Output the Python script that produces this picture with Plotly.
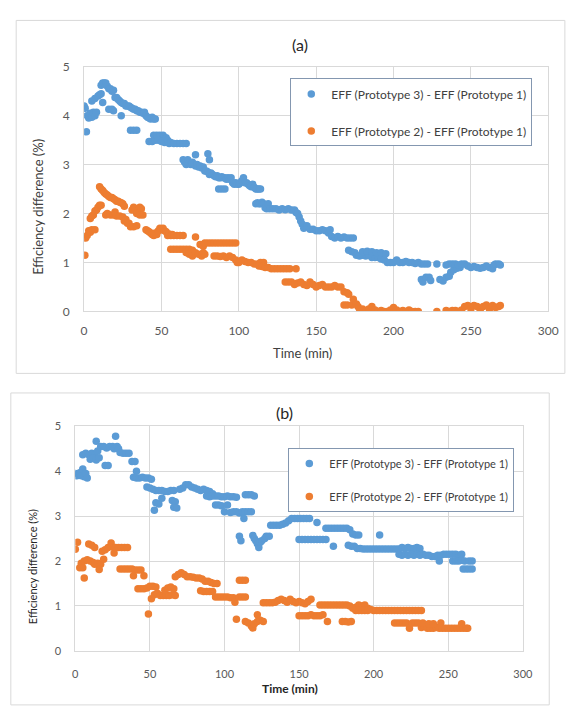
import plotly.graph_objects as go

# ---------------- data ----------------
A_BLUE = [
(0,4.2),(0.7,4.15),(1.5,3.67),(2,4.0),(3,3.95),(4,4.05),(5,3.97),(6,4.07),(7,4.0),(8,4.07),
(5,4.3),(7,4.35),(9,4.4),(10,4.43),(11,4.45),(12,4.27),(11,4.62),(12,4.67),(13,4.67),(14,4.67),
(15,4.6),(16,4.55),(17,4.55),(18,4.5),(19,4.52),(16,4.13),(18,4.13),(19,4.1),(20,4.37),(21,4.37),
(22,4.33),(23,4.3),(24,4.27),(24,4.0),(25,4.25),(26,4.25),(27,4.2),(28,4.2),(29,4.2),(30,4.17),
(31,4.15),(32,4.13),(33,4.13),(34,4.1),(35,4.1),(36,4.07),(37,4.07),(38,4.05),(39,4.07),(40,4.0),
(41,3.97),(42,3.95),(43,3.93),(44,3.97),(45,3.93),(46,3.93),(30,3.7),(32,3.7),(34,3.7),
(42,3.47),(44,3.47),(46,3.5),(45,3.6),(47,3.6),(49,3.6),(51,3.6),(53,3.55),(48,3.5),(50,3.47),
(52,3.45),(54,3.5),(55,3.43),(56,3.45),(58,3.43),(60,3.43),(62,3.43),(64,3.43),(66,3.43),
(64,3.1),(65,3.05),(66,3.0),(67,3.1),(68,3.03),(69,3.0),(70,3.05),(71,3.0),(72,3.2),(72,2.97),
(73,3.0),(74,2.95),(75,2.97),(76,2.93),(77,2.95),(78,2.87),(80,3.22),(81,3.1),(79,2.87),(80,2.85),
(81,2.8),(82,2.83),(83,2.8),(84,2.77),(85,2.75),(86,2.77),(87,2.73),(88,2.73),(89,2.75),(90,2.73),
(91,2.73),(92,2.7),(87,2.5),(89,2.5),(91,2.5),
(93,2.73),(94,2.7),(95,2.73),(96,2.63),(97,2.6),(98,2.63),(99,2.6),(100,2.6),(101,2.63),(102,2.67),
(103,2.73),(104,2.63),(105,2.63),(106,2.6),(107,2.57),(108,2.55),(109,2.6),(110,2.53),(111,2.5),
(112,2.5),(113,2.5),(114,2.5),
(111,2.2),(112,2.22),(113,2.2),(114,2.2),(115,2.23),(116,2.2),(117,2.12),(118,2.1),(119,2.2),
(120,2.1),(122,2.1),(124,2.1),(126,2.07),(128,2.1),(130,2.08),(132,2.1),(134,2.07),(136,2.07),
(137,2.02),(138,2.0),(139,1.93),(140,1.85),
(141,1.78),(142,1.7),(144,1.75),(146,1.68),(148,1.68),(150,1.65),(152,1.65),(154,1.67),(156,1.65),
(158,1.6),(159,1.67),(160,1.53),(162,1.5),(164,1.53),(166,1.5),(168,1.52),(170,1.5),(172,1.5),(174,1.5),
(171,1.25),(173,1.22),(175,1.2),(176,1.15),(178,1.13),(180,1.15),(182,1.13),(184,1.15),(186,1.1),
(188,1.1),(190,1.1),(192,1.07),(194,1.05),(196,1.0),(198,1.0),(200,1.0),(202,1.05),(204,1.0),
(206,1.0),(208,1.02),(210,1.0),(212,1.0),(214,0.98),(216,1.0),(218,0.97),(220,0.97),(222,0.97),
(180,1.22),(183,1.23),(186,1.22),(189,1.2),(192,1.2),(195,1.18),
(218,0.65),(219,0.6),(221,0.7),(223,0.7),(224,0.63),(228,0.97),(230,0.65),(232,0.62),(234,0.7),
(236,0.72),(237,0.8),(239,0.85),(241,0.88),(243,0.9),(234,0.95),(236,0.97),(238,0.97),(240,0.97),
(242,0.95),(244,0.97),(246,0.97),(248,0.93),(250,0.9),(252,0.92),(254,0.9),(256,0.88),(258,0.9),
(260,0.93),(262,0.9),(264,0.87),(265,0.95),(266,0.97),(268,0.97),(269,0.95),
]

A_ORANGE = [
(0.5,1.15),(1,1.5),(2,1.55),(3,1.65),(4,1.62),(5,1.67),(7,1.67),(4,1.9),(5,1.95),(6,1.97),
(7,2.05),(8,2.07),(9,2.13),(10,2.17),(11,2.17),(10,2.55),(11,2.5),(12,2.47),(13,2.43),(14,2.4),
(15,2.38),(16,2.35),(17,2.33),(18,2.33),(19,2.3),(20,2.28),(21,2.25),(22,2.25),(23,2.23),(24,2.22),
(25,2.2),(26,2.15),
(14,1.97),(15,2.0),(17,1.97),(19,1.97),(20,2.03),(21,1.95),(23,1.95),(25,1.93),(26,1.85),(27,1.88),
(28,1.8),(29,1.8),(30,1.73),(32,1.73),(34,1.75),(31,2.07),(32,2.13),(33,2.1),(35,2.07),(36,2.13),
(37,2.1),(34,2.0),(36,1.97),(38,1.97),
(40,1.67),(41,1.65),(42,1.63),(43,1.6),(44,1.57),(45,1.55),(46,1.6),(47,1.57),(48,1.65),(49,1.7),
(50,1.67),(51,1.7),(52,1.65),(53,1.63),(54,1.55),(55,1.58),(56,1.55),(57,1.57),(58,1.55),(60,1.55),
(62,1.55),(64,1.55),(72,1.52),
(56,1.27),(58,1.27),(60,1.27),(62,1.27),(64,1.27),(66,1.27),(68,1.27),(70,1.25),(66,1.2),(68,1.17),
(70,1.13),(72,1.2),(74,1.17),(76,1.13),(77,1.2),(78,1.17),(75,1.37),(77,1.33),(78,1.4),(80,1.4),
(82,1.4),(84,1.4),(86,1.4),(88,1.4),(90,1.4),(92,1.4),(94,1.4),(96,1.4),(98,1.4),
(84,1.13),(86,1.13),(88,1.12),(90,1.13),(92,1.1),(94,1.13),(96,1.1),(98,1.05),(99,1.0),(100,1.0),
(102,1.05),(104,1.02),(106,1.0),(108,1.0),(110,0.97),(112,0.97),(114,1.0),(116,1.0),(113,0.93),
(115,0.92),(117,0.9),(119,0.9),(121,0.87),(123,0.87),(125,0.87),(127,0.87),(129,0.87),(131,0.87),
(133,0.87),(137,0.87),
(130,0.6),(132,0.6),(134,0.6),(136,0.55),(138,0.58),(140,0.6),(142,0.55),(144,0.53),(146,0.6),
(148,0.55),(150,0.5),(152,0.53),(154,0.55),(156,0.5),(158,0.5),(160,0.5),(162,0.53),(164,0.5),
(166,0.5),(168,0.4),(170,0.38),(171,0.35),
(168,0.13),(170,0.13),(173,0.13),(174,0.25),(176,0.15),(177,0.1),(178,0.05),(180,0.05),(182,0.0),
(184,0.05),(186,0.1),(188,0.03),(190,0.0),(192,0.02),(194,0.0),(196,0.0),(198,0.03),(200,0.08),
(202,0.03),(204,0.0),(206,0.02),(208,0.0),(210,0.03),(212,0.0),(214,0.0),(216,0.0),(228,0.0),
(234,0.02),(236,0.0),(238,0.02),(240,0.02),(242,0.0),(244,0.03),(246,0.1),(248,0.12),(250,0.05),
(252,0.12),(254,0.1),(256,0.02),(258,0.1),(260,0.13),(262,0.05),(264,0.12),(266,0.08),(268,0.1),
(269,0.12),
]

B_BLUE = [
(0,3.95),(1,3.9),(2,3.95),(3,3.97),(4,3.9),(5,4.05),(6,3.88),(7,3.95),(8,3.85),
(5,4.37),(7,4.4),(9,4.37),(11,4.4),(13,4.37),(10,4.27),(12,4.3),(14,4.25),(16,4.3),(14,4.67),
(15,4.45),(17,4.55),(19,4.55),(21,4.52),(23,4.55),(25,4.55),(20,4.13),(22,4.13),(27,4.78),(26,4.5),
(28,4.55),(29,4.5),(30,4.42),(32,4.4),(34,4.4),(36,4.4),(38,4.22),(40,4.22),(41,4.0),
(39,3.87),(41,3.85),(43,3.85),(45,3.87),(47,3.85),(49,3.85),(51,3.82),(48,3.65),(50,3.63),(52,3.6),
(54,3.57),(56,3.57),(58,3.57),(60,3.55),(62,3.55),(64,3.57),(66,3.57),(53,3.13),(54,3.3),(56,3.27),
(58,3.4),(65,3.35),(67,3.32),(66,3.2),(68,3.18),
(70,3.6),(72,3.63),(74,3.7),(76,3.7),(78,3.65),(80,3.63),(82,3.6),(84,3.57),(86,3.6),(88,3.57),
(90,3.55),(92,3.5),(88,3.45),(90,3.43),(92,3.45),(94,3.45),(96,3.45),(98,3.43),(100,3.43),(102,3.45),
(104,3.43),(106,3.43),(108,3.42),(94,3.25),(96,3.25),(98,3.23),(100,3.1),(102,3.25),(104,3.08),
(106,3.1),(108,3.1),(110,3.07),(112,3.1),(114,3.1),(116,3.1),(118,3.1),(113,2.95),(114,3.48),
(116,3.48),(118,3.48),(120,3.45),
(110,2.55),(111,2.45),(119,2.57),(120,2.5),(121,2.45),(122,2.38),(123,2.3),(124,2.42),(125,2.45),
(127,2.5),(128,2.55),(130,2.55),
(131,2.8),(133,2.8),(135,2.8),(137,2.8),(139,2.82),(141,2.85),(143,2.9),(145,2.95),(147,2.95),
(149,2.95),(151,2.95),(153,2.95),(155,2.95),(157,2.95),(162,2.86),
(150,2.48),(152,2.48),(154,2.48),(156,2.48),(158,2.48),(160,2.48),(162,2.48),(164,2.48),(166,2.48),
(168,2.48),(173,2.33),
(168,2.73),(170,2.73),(172,2.73),(174,2.73),(176,2.73),(178,2.73),(180,2.73),(182,2.73),(184,2.7),
(186,2.6),(188,2.58),(190,2.58),(204,2.58),
(183,2.35),(185,2.33),(187,2.33),(189,2.28),(191,2.28),(193,2.27),(195,2.27),(197,2.27),(199,2.27),
(201,2.27),(203,2.27),(205,2.27),(207,2.27),(209,2.27),(211,2.27),(213,2.27),(215,2.27),(217,2.27),
(219,2.3),(221,2.28),(223,2.3),(225,2.28),(227,2.28),(229,2.3),(231,2.28),
(217,2.15),(219,2.13),(221,2.15),(223,2.13),(225,2.15),(227,2.13),(229,2.15),(231,2.13),(233,2.15),
(235,2.13),(237,2.13),(239,2.1),(241,2.1),(243,2.13),(245,2.13),(247,2.15),(249,2.15),(251,2.15),
(253,2.15),(255,2.15),(257,2.13),(259,2.15),
(244,2.0),(253,2.0),(255,2.0),(257,2.0),(259,2.02),(261,2.0),(264,2.0),(266,2.0),(260,1.82),
(262,1.82),(264,1.82),(266,1.82),
]

B_ORANGE = [
(0,2.26),(1.5,2.42),(3,1.85),(4,1.95),(5,1.85),(6,1.62),(6,2.0),(8,2.03),(10,2.0),(12,1.97),
(9,2.38),(11,2.35),(13,2.3),(13,1.93),(15,1.95),(17,1.93),(16,1.81),(19,2.04),(18,2.22),(20,2.25),
(22,2.3),(24,2.4),(26,2.3),(26,2.18),(27,2.3),(29,2.3),(31,2.3),(33,2.3),(35,2.3),
(30,1.82),(32,1.82),(34,1.82),(36,1.82),(38,1.82),(40,1.8),(42,1.8),(44,1.8),(39,1.67),(46,1.67),
(42,1.38),(44,1.38),(46,1.38),(48,1.4),(50,1.44),(52,1.44),(54,1.42),(49,0.82),(51,1.16),(53,1.25),
(55,1.28),(57,1.23),(59,1.23),(61,1.23),(63,1.23),(65,1.25),(67,1.23),(60,1.35),(62,1.4),(64,1.42),
(66,1.38),
(67,1.65),(69,1.7),(71,1.74),(73,1.7),(75,1.65),(77,1.65),(79,1.64),(81,1.62),(83,1.62),(85,1.6),
(87,1.55),(89,1.55),(91,1.52),(93,1.5),(95,1.5),(84,1.34),(86,1.32),(88,1.32),(90,1.32),(92,1.32),
(94,1.2),(96,1.2),(98,1.2),(100,1.2),(102,1.2),(104,1.18),(106,1.18),(107,1.08),(108,0.7),(110,1.2),
(112,1.2),(114,1.2),(110,1.57),(112,1.57),(114,1.57),
(114,0.65),(116,0.62),(118,0.55),(119,0.51),(120,0.6),(122,0.65),(122,0.8),(124,0.68),(126,0.65),
(126,1.07),(128,1.07),(130,1.07),(132,1.07),(134,1.08),(136,1.12),(138,1.15),(140,1.12),(142,1.08),
(144,1.15),(146,1.1),(148,1.07),(150,1.1),(152,1.07),(154,1.05),(156,1.1),(158,1.15),(150,0.78),
(152,0.78),(154,0.78),(156,0.78),(158,0.8),(160,0.78),(162,0.78),(164,0.78),(166,0.8),(169,0.65),
(164,1.02),(166,1.02),(168,1.02),(170,1.02),(172,1.02),(174,1.02),(176,1.02),(178,1.02),(180,1.02),
(182,1.02),(184,1.0),(186,0.95),(188,0.97),(190,1.02),(192,1.0),(194,1.02),(196,0.95),(179,0.65),
(181,0.65),(183,0.64),(185,0.65),
(188,0.9),(190,0.9),(192,0.9),(194,0.9),(196,0.9),(198,0.92),(200,0.9),(202,0.9),(204,0.9),
(206,0.9),(208,0.9),(210,0.9),(212,0.9),(214,0.9),(216,0.9),(218,0.9),(220,0.9),(222,0.9),
(224,0.9),(226,0.9),(228,0.9),(230,0.9),(232,0.9),
(214,0.62),(216,0.62),(218,0.62),(220,0.62),(222,0.62),(224,0.5),(226,0.62),(228,0.62),(230,0.62),
(232,0.52),(234,0.55),(236,0.5),(238,0.5),(240,0.5),(242,0.52),(244,0.5),(245,0.62),(246,0.5),
(248,0.5),(250,0.5),(252,0.5),(254,0.5),(256,0.5),(258,0.5),(259,0.6),(260,0.5),(262,0.5),
(263,0.5),(233,0.62),(237,0.6),(240,0.6),
]

NAME_P3 = "EFF (Prototype 3) - EFF (Prototype 1)"
NAME_P2 = "EFF (Prototype 2) - EFF (Prototype 1)"
X_TICKS = [0, 50, 100, 150, 200, 250, 300]
Y_TICKS = [0, 1, 2, 3, 4, 5]

BLUE = "#5B9BD5"
ORANGE = "#ED7D31"
GRID = "#D9D9D9"
FONT = "Lato, Open Sans, sans-serif"

W, H = 569, 707
def px(x): return x / W
def py(y): return 1 - y / H

fig = go.Figure()

def add(series, name, color, xa, ya, legend, show):
    fig.add_trace(go.Scatter(
        x=[p[0] for p in series], y=[p[1] for p in series],
        mode="markers", name=name, xaxis=xa, yaxis=ya,
        legend=legend, showlegend=show, legendgroup=name + legend,
        marker=dict(color=color, size=7.5, line=dict(width=0)),
    ))

add(A_BLUE, NAME_P3, BLUE, "x", "y", "legend", True)
add(A_ORANGE, NAME_P2, ORANGE, "x", "y", "legend", True)
add(B_BLUE, NAME_P3, BLUE, "x2", "y2", "legend2", True)
add(B_ORANGE, NAME_P2, ORANGE, "x2", "y2", "legend2", True)

def xax(dom, anchor, size, standoff):
    return dict(domain=dom, anchor=anchor, range=[0, 300], tickvals=X_TICKS,
                showgrid=True, gridcolor=GRID, gridwidth=1, zeroline=False,
                showline=True, linecolor=GRID, mirror=True, ticks="",
                tickfont=dict(family=FONT, size=size, color="#595959"),
                ticklabelstandoff=standoff, fixedrange=True)

def yax(dom, anchor, size, standoff):
    return dict(domain=dom, anchor=anchor, range=[0, 5], tickvals=Y_TICKS,
                showgrid=True, gridcolor=GRID, gridwidth=1, zeroline=False,
                showline=True, linecolor=GRID, mirror=True, ticks="",
                tickfont=dict(family=FONT, size=size, color="#595959"),
                ticklabelstandoff=standoff, fixedrange=True)

def note(text, x, y, size, color, angle=0):
    return dict(text=text, x=px(x), y=py(y), xref="paper", yref="paper",
                xanchor="center", yanchor="middle", showarrow=False,
                textangle=angle, font=dict(family=FONT, size=size, color=color))

fig.update_layout(
    width=W, height=H, margin=dict(l=0, r=0, t=0, b=0),
    paper_bgcolor="white", plot_bgcolor="white",
    font=dict(family=FONT, color="#404040"),
    xaxis=xax([px(83), px(558)], "y", 12, 8),
    yaxis=yax([py(310), py(60)], "x", 12, 11),
    xaxis2=xax([px(74), px(532)], "y2", 11, 13),
    yaxis2=yax([py(656.7), py(427.5)], "x2", 11, 11),
    legend=dict(x=px(294), y=py(72), xanchor="left", yanchor="top",
                bordercolor="#8497B0", borderwidth=1, bgcolor="white",
                font=dict(family=FONT, size=12, color="#404040"),
                traceorder="grouped", tracegroupgap=18),
    legend2=dict(x=px(292), y=py(449.5), xanchor="left", yanchor="top",
                 bordercolor="#8497B0", borderwidth=1, bgcolor="white",
                 font=dict(family=FONT, size=11, color="#404040"),
                 traceorder="grouped", tracegroupgap=14),
    shapes=[
        dict(type="rect", xref="paper", yref="paper", x0=px(13.5), x1=px(575),
             y0=py(373.3), y1=py(12.7), line=dict(color=GRID, width=1)),
        dict(type="rect", xref="paper", yref="paper", x0=px(8), x1=px(559),
             y0=py(712), y1=py(393.3), line=dict(color=GRID, width=1)),
    ],
    annotations=[
        note("(a)", 304, 37, 16, "#262626"),
        note("(b)", 288.5, 413, 16, "#262626"),
        note("Efficiency difference (%)", 36, 203, 13, "#404040", -90),
        note("Efficiency difference (%)", 31, 571, 11, "#262626", -90),
        note("Time (min)", 307, 352, 13, "#404040"),
        note("<b>Time (min)</b>", 294, 695, 12, "#262626"),
    ],
)

fig.write_html("out.html")
